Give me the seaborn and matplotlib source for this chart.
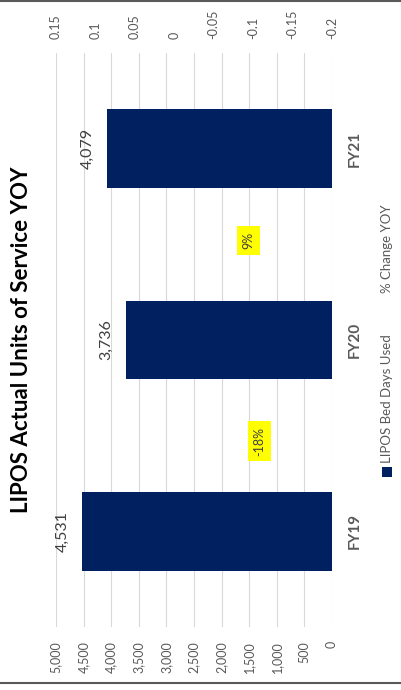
import matplotlib
matplotlib.use('Agg')
import pandas as pd
import seaborn as sns
import matplotlib.pyplot as plt
from matplotlib.lines import Line2D
from matplotlib.patches import Rectangle

# data
years = ['FY19', 'FY20', 'FY21']
bed_days = [4531, 3736, 4079]
pct_change = [-0.18, 0.09]
pct_text = ['-18%', '9%']
# where the boxed % labels sit: category position and secondary-axis value
pct_label_pos = [0.47, 1.52]
pct_label_val = [-0.108, -0.094]
left_ticks = [0, 500, 1000, 1500, 2000, 2500, 3000, 3500, 4000, 4500, 5000]
right_ticks = [0.15, 0.1, 0.05, 0, -0.05, -0.1, -0.15, -0.2]

navy = '#002060'
grey = '#595959'

sns.set_style('white')
plt.rcParams['font.family'] = ['Lato', 'DejaVu Sans']

df = pd.DataFrame({'year': years, 'days': bed_days})

fig = plt.figure(figsize=(4.01, 6.9), dpi=100)
W, H = 401, 690
ax = fig.add_axes([56 / W, 1 - 627 / H, 276 / W, 574 / H])

sns.barplot(data=df, x='days', y='year', orient='h', color=navy,
            saturation=1, width=0.41, linewidth=0, ax=ax)
ax.set_ylim(-0.5, 2.5)
ax.set_xlim(5000, 0)
ax.set_xlabel('')
ax.set_ylabel('')

ax.set_xticks(left_ticks)
ax.set_xticklabels([f'{v:,}' for v in left_ticks], rotation=90,
                   fontsize=9, color=grey, va='top')
ax.tick_params(axis='x', length=0, pad=10)
ax.grid(axis='x', color='#d9d9d9', linewidth=0.8)
ax.grid(axis='y', visible=False)
ax.set_axisbelow(True)

ax.yaxis.tick_right()
ax.set_yticks(range(len(years)))
ax.set_yticklabels(years, rotation=90, fontsize=11, fontweight='bold',
                   color=grey, va='center')
ax.tick_params(axis='y', length=0, pad=11)
for s in ax.spines.values():
    s.set_visible(False)

ax.bar_label(ax.containers[0], labels=[f'{v:,}' for v in bed_days],
             padding=9, rotation=90, fontsize=11.5, color='#404040')

ax2 = ax.twiny()
ax2.set_xlim(0.15, -0.2)
ax2.set_xticks(right_ticks)
ax2.set_xticklabels([f'{v:g}' for v in right_ticks], rotation=90,
                    fontsize=9, color=grey, va='bottom')
ax2.tick_params(axis='x', length=0, pad=10)
ax2.grid(False)
for s in ax2.spines.values():
    s.set_visible(False)

for v, p, t, x in zip(pct_change, pct_label_pos, pct_text, pct_label_val):
    ax2.text(x, p, t, rotation=90, ha='center', va='center', fontsize=9,
             color='#404040',
             bbox=dict(facecolor='#ffff00', edgecolor='none', pad=4))

# title, reads bottom to top
fig.text(22 / W, 1 - 340 / H, 'LIPOS Actual Units of Service YOY',
         rotation=90, ha='center', va='center', fontsize=16,
         fontweight='bold', color='black')

# legend drawn by hand so it can be turned with the chart
fig.add_artist(Rectangle((382 / W, 1 - 477 / H), 10 / W, 10 / H,
                         transform=fig.transFigure, facecolor=navy,
                         edgecolor='none'))
fig.text(387 / W, 1 - 463 / H, 'LIPOS Bed Days Used', rotation=90,
         ha='center', va='bottom', fontsize=9.5, color=grey)
fig.text(387 / W, 1 - 293 / H, '% Change YOY', rotation=90,
         ha='center', va='bottom', fontsize=9.5, color=grey)

# outer frame edges
fig.add_artist(Line2D([0, 1], [1 - 1 / H, 1 - 1 / H], color=grey,
                      linewidth=1.5, transform=fig.transFigure))
fig.add_artist(Line2D([0, 1], [1 - 683 / H, 1 - 683 / H], color=grey,
                      linewidth=1.5, transform=fig.transFigure))

fig.savefig('out.png', dpi=100)
